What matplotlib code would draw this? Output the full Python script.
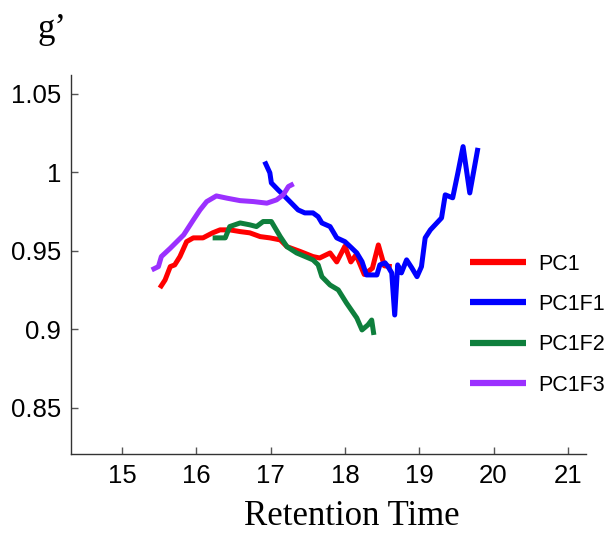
import matplotlib
matplotlib.use("Agg")
import matplotlib.pyplot as plt

# PC1 (red)
pc1_x = [15.51, 15.58, 15.65, 15.71, 15.78, 15.87, 15.96, 16.09, 16.22, 16.32, 16.45, 16.59,
         16.72, 16.86, 16.99, 17.13, 17.22, 17.40, 17.57, 17.66, 17.80, 17.89, 18.00, 18.08,
         18.15, 18.26, 18.37, 18.45, 18.53, 18.63]
pc1_y = [0.9264, 0.9315, 0.9400, 0.9411, 0.9464, 0.9559, 0.9583, 0.9583, 0.9615, 0.9634, 0.9634, 0.9623,
         0.9615, 0.9591, 0.9583, 0.9570, 0.9527, 0.9496, 0.9464, 0.9455, 0.9487, 0.9430, 0.9530, 0.9430,
         0.9475, 0.9350, 0.9390, 0.9538, 0.9405, 0.9400]

# PC1F1 (blue)
pc1f1_x = [16.92, 16.99, 17.01, 17.10, 17.17, 17.26, 17.37, 17.46, 17.57, 17.64, 17.69, 17.80,
           17.89, 18.00, 18.09, 18.16, 18.23, 18.29, 18.43, 18.47, 18.54, 18.58, 18.63, 18.67,
           18.71, 18.76, 18.83, 18.90, 18.97, 19.03, 19.08, 19.15, 19.30, 19.35, 19.45, 19.52,
           19.59, 19.68, 19.79]
pc1f1_y = [1.0069, 0.9997, 0.9933, 0.9889, 0.9857, 0.9814, 0.9761, 0.9742, 0.9742, 0.9718, 0.9678, 0.9655,
           0.9583, 0.9559, 0.9519, 0.9487, 0.9432, 0.9347, 0.9347, 0.9411, 0.9424, 0.9400, 0.9360, 0.9092,
           0.9411, 0.9360, 0.9443, 0.9392, 0.9336, 0.9400, 0.9583, 0.9634, 0.9710, 0.9857, 0.9838, 0.9997,
           1.0164, 0.9869, 1.0156]

# PC1F2 (green)
pc1f2_x = [16.22, 16.39, 16.45, 16.59, 16.72, 16.81, 16.90, 17.01, 17.13, 17.22, 17.35, 17.57,
           17.64, 17.69, 17.80, 17.91, 18.02, 18.16, 18.23, 18.31, 18.36, 18.39]
pc1f2_y = [0.9583, 0.9583, 0.9655, 0.9678, 0.9666, 0.9655, 0.9687, 0.9687, 0.9591, 0.9527, 0.9487, 0.9443,
           0.9411, 0.9336, 0.9283, 0.9252, 0.9169, 0.9073, 0.8997, 0.9029, 0.9060, 0.8965]

# PC1F3 (purple)
pc1f3_x = [15.40, 15.49, 15.53, 15.65, 15.83, 15.96, 16.05, 16.14, 16.27, 16.41, 16.59, 16.77,
           16.95, 17.08, 17.17, 17.24, 17.31]
pc1f3_y = [0.9379, 0.9400, 0.9464, 0.9517, 0.9602, 0.9697, 0.9761, 0.9814, 0.9850, 0.9836, 0.9820, 0.9814,
           0.9804, 0.9825, 0.9857, 0.9910, 0.9927]

series_names = ["PC1", "PC1F1", "PC1F2", "PC1F3"]
xticks = [15, 16, 17, 18, 19, 20, 21]
yticks = [0.85, 0.9, 0.95, 1.0, 1.05]
ytick_labels = ["0.85", "0.9", "0.95", "1", "1.05"]

colors = ["#ff0000", "#0000ff", "#0e7f3c", "#9b30ff"]

fig = plt.figure(figsize=(6.11, 5.41), dpi=100)
ax = fig.add_axes([0.1157, 0.1608, 0.8429, 0.7006])

data = [(pc1_x, pc1_y), (pc1f1_x, pc1f1_y), (pc1f2_x, pc1f2_y), (pc1f3_x, pc1f3_y)]
for (xs, ys), name, c in zip(data, series_names, colors):
    ax.plot(xs, ys, color=c, lw=3.6, label=name, solid_joinstyle="round", solid_capstyle="butt")

ax.set_xlim(14.31, 21.24)
ax.set_ylim(0.8207, 1.062)
ax.set_xticks(xticks)
ax.set_xticklabels([str(t) for t in xticks])
ax.set_yticks(yticks)
ax.set_yticklabels(ytick_labels)
for s in ["top", "right"]:
    ax.spines[s].set_visible(False)
for s in ["left", "bottom"]:
    ax.spines[s].set_color("#333333")
    ax.spines[s].set_linewidth(1.0)
ax.tick_params(direction="in", length=5, width=1, color="#555555",
               labelsize=18.5, labelcolor="black", pad=7)
for lab in ax.get_xticklabels() + ax.get_yticklabels():
    lab.set_family("Liberation Sans")

leg = ax.legend(loc="upper left", bbox_to_anchor=(0.775, 0.529), frameon=False,
                borderaxespad=0, borderpad=0,
                handlelength=2.6, handletextpad=0.6, labelspacing=0.9,
                prop={"family": "Liberation Sans", "size": 15.5})
for h in leg.get_lines():
    h.set_linewidth(4.5)

fig.text(0.575, 0.03, "Retention Time", family="Liberation Serif", fontsize=25,
         ha="center", va="baseline")
fig.text(0.061, 0.93, "g\u2019", family="Liberation Serif", fontsize=25,
         ha="left", va="baseline")

fig.savefig("out.png", dpi=100)
